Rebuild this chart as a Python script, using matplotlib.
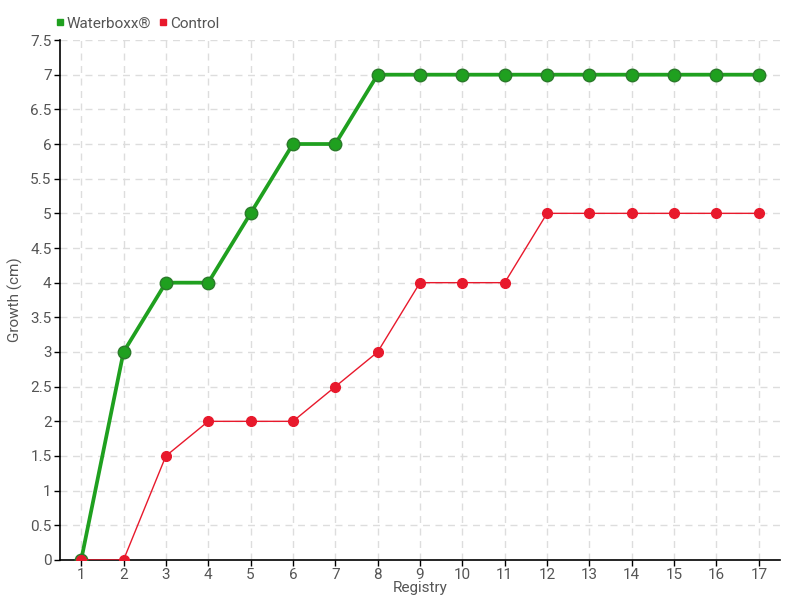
import matplotlib
matplotlib.use("Agg")
import matplotlib.pyplot as plt
from matplotlib.lines import Line2D

registry = list(range(1, 18))
waterboxx = [0, 3, 4, 4, 5, 6, 6, 7, 7, 7, 7, 7, 7, 7, 7, 7, 7]
control = [0, 0, 1.5, 2, 2, 2, 2.5, 3, 4, 4, 4, 5, 5, 5, 5, 5, 5]
yticks = [0, 0.5, 1, 1.5, 2, 2.5, 3, 3.5, 4, 4.5, 5, 5.5, 6, 6.5, 7, 7.5]
ytick_labels = ["0", "0.5", "1", "1.5", "2", "2.5", "3", "3.5", "4", "4.5", "5", "5.5", "6", "6.5", "7", "7.5"]

plt.rcParams['font.family'] = ['Roboto', 'DejaVu Sans']
txt = '#555555'
green = '#1fa01f'
red = '#e8192c'

fig = plt.figure(figsize=(8, 6), dpi=100)
ax = fig.add_axes([0.075, 0.0667, 0.9, 0.8666])

ax.plot(registry, waterboxx, color=green, lw=2.7, marker='o', ms=9,
        markerfacecolor=green, markeredgecolor='#2a7a2a', markeredgewidth=1, zorder=3)
ax.plot(registry, control, color=red, lw=1, marker='o', ms=7,
        markerfacecolor=red, markeredgecolor=red, zorder=4)

ax.set_xlim(0.5, 17.5)
ax.set_ylim(0, 7.5)
ax.set_xticks(registry)
ax.set_xticklabels([str(r) for r in registry])
ax.set_yticks(yticks)
ax.set_yticklabels(ytick_labels)
ax.grid(True, color='#dddddd', linestyle=(0, (5, 4)), lw=1)
ax.set_axisbelow(True)
for s in ['top', 'right']:
    ax.spines[s].set_visible(False)
for s in ['left', 'bottom']:
    ax.spines[s].set_color('black')
    ax.spines[s].set_linewidth(1.2)
ax.tick_params(axis='both', colors='black', labelcolor=txt, labelsize=11, length=4, width=1, pad=2)
ax.set_xlabel('Registry', color=txt, fontsize=11, labelpad=-1)
ax.set_ylabel('Growth (cm)', color=txt, fontsize=11)
ax.yaxis.set_label_coords(-0.052, 0.5)

handles = [Line2D([], [], marker='s', ls='', color=green, ms=5),
           Line2D([], [], marker='s', ls='', color=red, ms=5)]
leg = fig.legend(handles, ['Waterboxx®', 'Control'], loc='upper left',
                 bbox_to_anchor=(0.053, 0.995), ncol=2, frameon=False,
                 fontsize=11, handlelength=0.5, handletextpad=0.2, columnspacing=0.5,
                 labelcolor=txt)

fig.savefig('out.png', dpi=100)
